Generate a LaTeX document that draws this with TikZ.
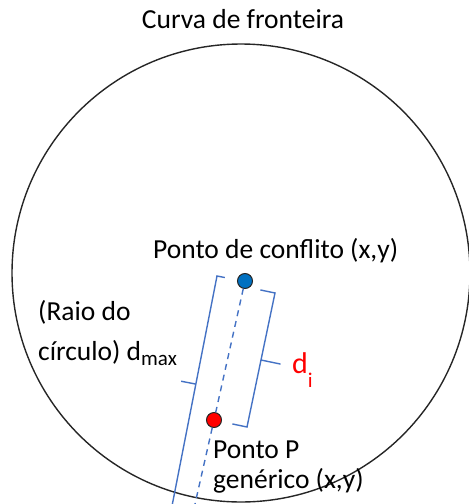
\documentclass[tikz,border=0pt]{standalone}
\usepackage{fontspec}
\setmainfont{Carlito}
\usepackage{xcolor}
\usetikzlibrary{positioning, calc}
\definecolor{linhaazul}{HTML}{4472C4}
\definecolor{pontoazul}{HTML}{0070C0}

\begin{document}
\begin{tikzpicture}[
  x=1pt, y=-1pt,
  lbl/.style={font=\fontsize{27.5}{30}\selectfont, inner sep=0pt, anchor=base west},
  dot/.style={circle, draw=black!85, line width=1pt, minimum size=15pt, inner sep=0pt},
  chave/.style={linhaazul, line width=1.4pt},
  tracejado/.style={linhaazul, line width=1.4pt, dash pattern=on 6pt off 5pt}
]
\useasboundingbox (0,0) rectangle (469,504);

\node[circle, draw=black!85, line width=1.4pt, minimum size=458pt, inner sep=0pt] (fronteira) at (241,273) {};
\node[lbl, anchor=base] (titulo) at (243,28) {Curva de fronteira};

\node[dot, fill=pontoazul] (conflito) at (245,281) {};
\node[dot, fill=red] (pgen) at (214,420) {};
\coordinate (fimtraco) at (195,504);
\draw[tracejado] (conflito) -- (pgen);
\draw[tracejado] (pgen) -- (fimtraco);

\node[lbl] (rotconflito) at (153,258) {Ponto de conflito (x,y)};
\node[lbl] (rotP) at (213,458) {Ponto P};
\node[lbl] (rotgen) at (213,488) {genérico (x,y)};
\node[lbl] (raioA) at (38,320) {(Raio do};
\node[lbl] (raioB) at (38,360)
  {círculo) d\raisebox{-5pt}{\fontsize{21}{21}\selectfont max}};
\node[lbl, red, font=\fontsize{30}{30}\selectfont] (rotdi) at (292,373)
  {d\raisebox{-14pt}{\fontsize{21}{21}\selectfont i}};

% chave de d_max
\coordinate (dmaxtopo) at (217,276);
\coordinate (dmaxbase) at (172,506);
\coordinate (dmaxmeio) at ($(dmaxtopo)!0.47!(dmaxbase)$);
\draw[chave] ($(dmaxtopo)!8pt!90:(dmaxbase)$) -- (dmaxtopo) -- (dmaxbase);
\draw[chave] (dmaxmeio) -- ($(dmaxmeio)!15pt!-90:(dmaxbase)$);

% chave de d_i
\coordinate (ditopo) at (275,293);
\coordinate (dibase) at (247,427);
\coordinate (dimeio) at ($(ditopo)!0.5!(dibase)$);
\draw[chave] ($(ditopo)!15pt!-90:(dibase)$) -- (ditopo) -- (dibase)
  -- ($(dibase)!15pt!90:(ditopo)$);
\draw[chave] (dimeio) -- ($(dimeio)!20pt!90:(dibase)$);
\end{tikzpicture}
\end{document}
